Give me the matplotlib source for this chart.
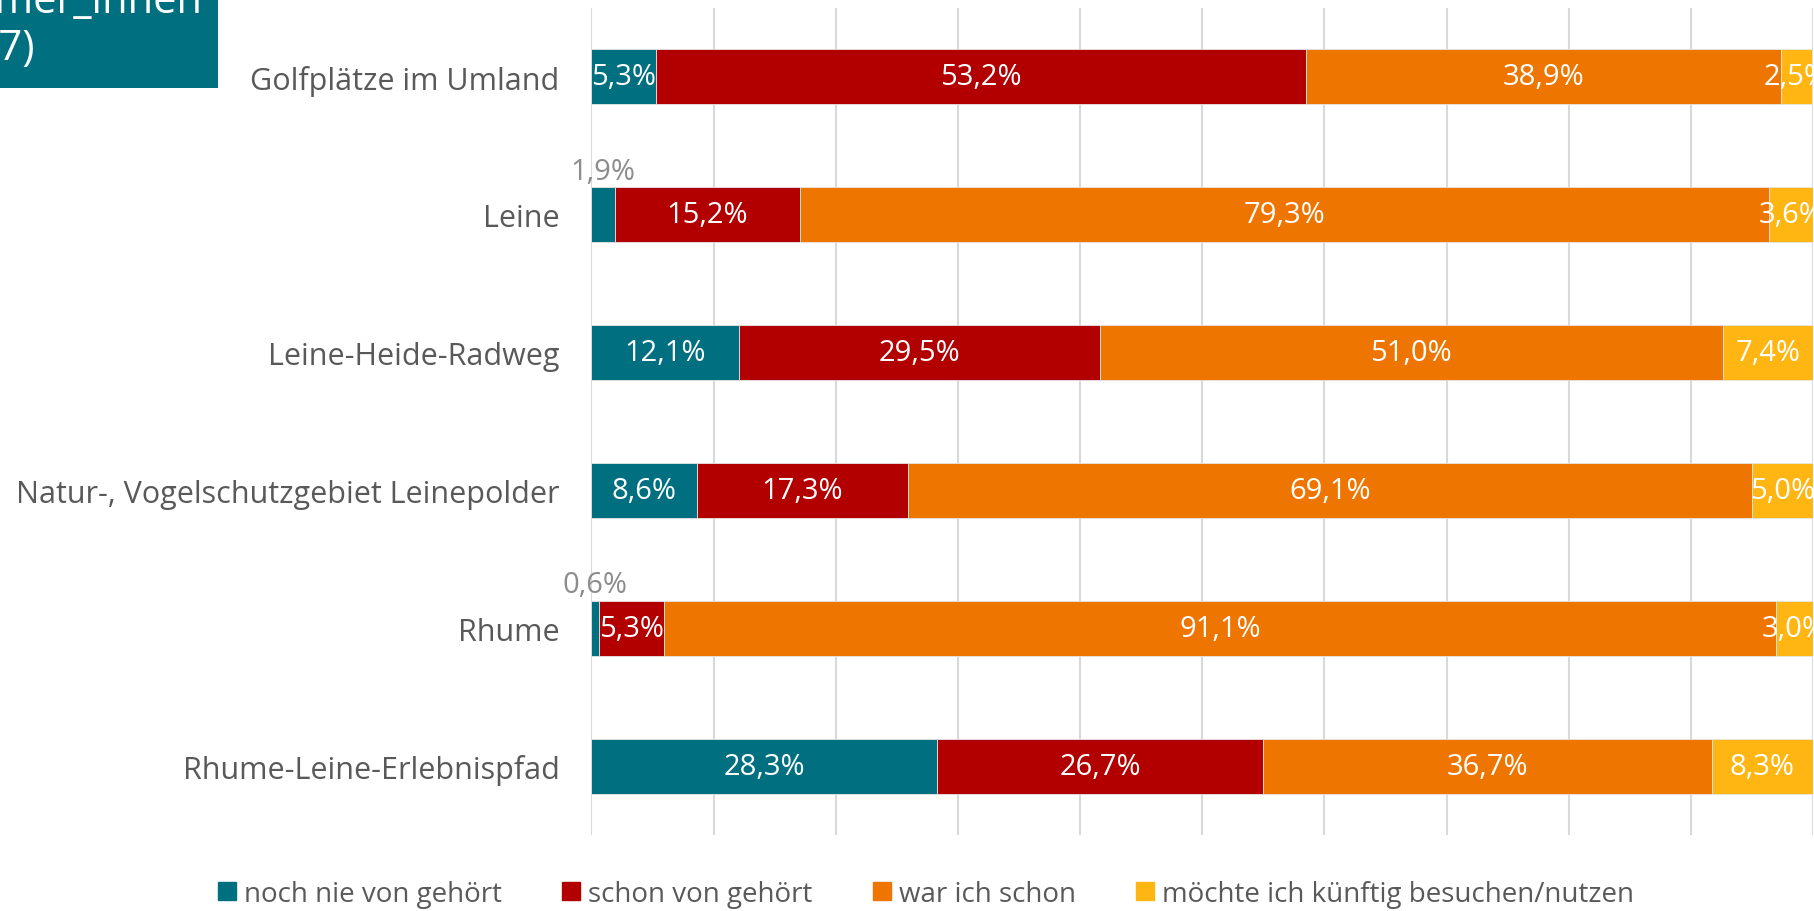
import matplotlib
matplotlib.use("Agg")
import matplotlib.pyplot as plt
from matplotlib.patches import Rectangle
from matplotlib.lines import Line2D

plt.rcParams['font.family'] = ['Open Sans', 'DejaVu Sans']

categories = ["Golfplätze im Umland", "Leine", "Leine-Heide-Radweg",
              "Natur-, Vogelschutzgebiet Leinepolder", "Rhume",
              "Rhume-Leine-Erlebnispfad"]
series_names = ["noch nie von gehört", "schon von gehört", "war ich schon",
                "möchte ich künftig besuchen/nutzen"]
noch_nie = [5.3, 1.9, 12.1, 8.6, 0.6, 28.3]
schon_gehoert = [53.2, 15.2, 29.5, 17.3, 5.3, 26.7]
war_schon = [38.9, 79.3, 51.0, 69.1, 91.1, 36.7]
moechte = [2.5, 3.6, 7.4, 5.0, 3.0, 8.3]
series = [noch_nie, schon_gehoert, war_schon, moechte]
colors = ["#007080", "#B20000", "#EE7600", "#FFB612"]

W, H = 1815, 912
fig = plt.figure(figsize=(W / 100, H / 100), dpi=100)
ax = fig.add_axes([591.5 / W, 1 - 836 / H, (1813 - 591.5) / W, (836 - 9) / H])

y = list(range(len(categories)))
left = [0.0] * len(categories)
for vals, col, name in zip(series, colors, series_names):
    ax.barh(y, vals, left=left, height=0.4, color=col, label=name,
            edgecolor="#e6e6e6", linewidth=0.6, zorder=3)
    for i, (v, l) in enumerate(zip(vals, left)):
        txt = f"{v:.1f}%".replace(".", ",")
        cx = l + v / 2
        if v < 2:
            ax.text(cx, i - 0.21, txt, ha="center", va="bottom", color="#8c8c8c",
                    fontsize=21, zorder=4, clip_on=False)
        else:
            ax.text(cx, i, txt, ha="center", va="center", color="white",
                    fontsize=21, zorder=4, clip_on=False)
    left = [a + b for a, b in zip(left, vals)]

ax.set_xlim(0, 100)
ax.set_ylim(5.5, -0.5)
ax.set_xticks(range(0, 101, 10))
ax.set_xticklabels([])
ax.tick_params(axis="x", length=0)
ax.tick_params(axis="y", length=0, pad=23, labelsize=22, labelcolor="#595959")
ax.set_yticks(y)
ax.set_yticklabels(categories)
ax.grid(axis="x", color="#d9d9d9", linewidth=1.5, zorder=0)
for s in ax.spines.values():
    s.set_visible(False)

# teal title box (partially cut off)
fig.patches.append(Rectangle((0, 1 - 89 / H), 218 / W, 89 / H, transform=fig.transFigure,
                             facecolor="#007080", edgecolor="none", zorder=0))
fig.text(203 / W, 1 - 13 / H, "Teilnehmer_innen", ha="right", va="baseline",
         color="white", fontsize=30)
fig.text(35 / W, 1 - 60 / H, "(n=57)", ha="right", va="baseline",
         color="white", fontsize=30)

handles = [Line2D([0], [0], marker="s", linestyle="none", markersize=12.5,
                  markerfacecolor=c, markeredgecolor=c) for c in colors]
fig.legend(handles, series_names, loc="center", bbox_to_anchor=(0.51, 1 - 895 / H),
           ncol=4, frameon=False, fontsize=20, labelcolor="#595959",
           handletextpad=0.25, columnspacing=2.15, handlelength=0.7)

fig.savefig("out.png", dpi=100)
